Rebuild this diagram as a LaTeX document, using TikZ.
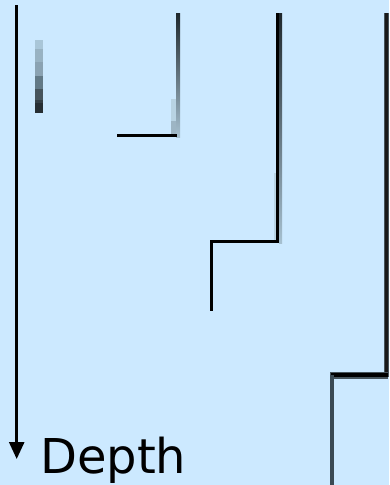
\documentclass[tikz,border=0pt]{standalone}
\usepackage{fontspec}
\setmainfont{DejaVu Sans}
\usetikzlibrary{arrows.meta}
\definecolor{bg}{HTML}{CCE9FF}
\definecolor{g1}{HTML}{A9C6D8}
\definecolor{g2}{HTML}{98B2C2}
\definecolor{g3}{HTML}{8AA2B2}
\definecolor{g4}{HTML}{627986}
\definecolor{g5}{HTML}{46545C}
\definecolor{g6}{HTML}{353F45}
\definecolor{g7}{HTML}{262E33}
\definecolor{dk}{HTML}{1E272C}
\definecolor{lt}{HTML}{A6C0D0}
\definecolor{strip}{HTML}{B8D3E3}
\definecolor{strip2}{HTML}{9DB5C4}
\definecolor{mid}{HTML}{3A4A54}
\begin{document}
\begin{tikzpicture}[x=1pt,y=-1pt,
  barseg/.style={draw=none},
  wall/.style={fill=black,draw=none},
  fade/.style={top color=dk,bottom color=lt,draw=none}]
\fill[bg] (0,0) rectangle (389,485);
\useasboundingbox (0,0) rectangle (389,485);
% depth arrow
\coordinate (atop) at (16.7,5);
\coordinate (abot) at (16.7,459);
\draw[line width=2.6pt,-{Triangle[length=17pt,width=15pt]}] (atop) -- (abot);
\node[anchor=base west,inner sep=0pt,font=\fontsize{48}{58}\selectfont] (depth) at (40,473) {Depth};
% stepped bar
\fill[g1] (35,40) rectangle (43,49);
\fill[g2] (35,49) rectangle (43,62);
\fill[g3] (35,62) rectangle (43,76);
\fill[g4] (35,76) rectangle (43,89);
\fill[g5] (35,89) rectangle (43,100);
\fill[g6] (35,100) rectangle (43,103);
\fill[g7] (35,103) rectangle (43,113);
% second profile
\fill[strip] (171,99) rectangle (176,121);
\fill[strip2] (171,121) rectangle (176,134);
\shade[fade] (176,13) rectangle (180,137);
\fill[black] (117,134) rectangle (177,137);
% third profile
\fill[strip] (274,173) rectangle (276,240);
\fill[black] (276,13) rectangle (279,243);
\shade[fade] (279,13) rectangle (282,243);
\fill[black] (210,240) rectangle (279,243);
\fill[black] (210,240) rectangle (213,311);
% fourth profile
\fill[g5] (384,13) rectangle (389,377);
\fill[black!90] (385,13) rectangle (388,377);
\fill[g5] (330,372) rectangle (388,379);
\fill[black] (331,373) rectangle (388,377);
\fill[mid] (330,375) rectangle (333.5,485);
\end{tikzpicture}
\end{document}
